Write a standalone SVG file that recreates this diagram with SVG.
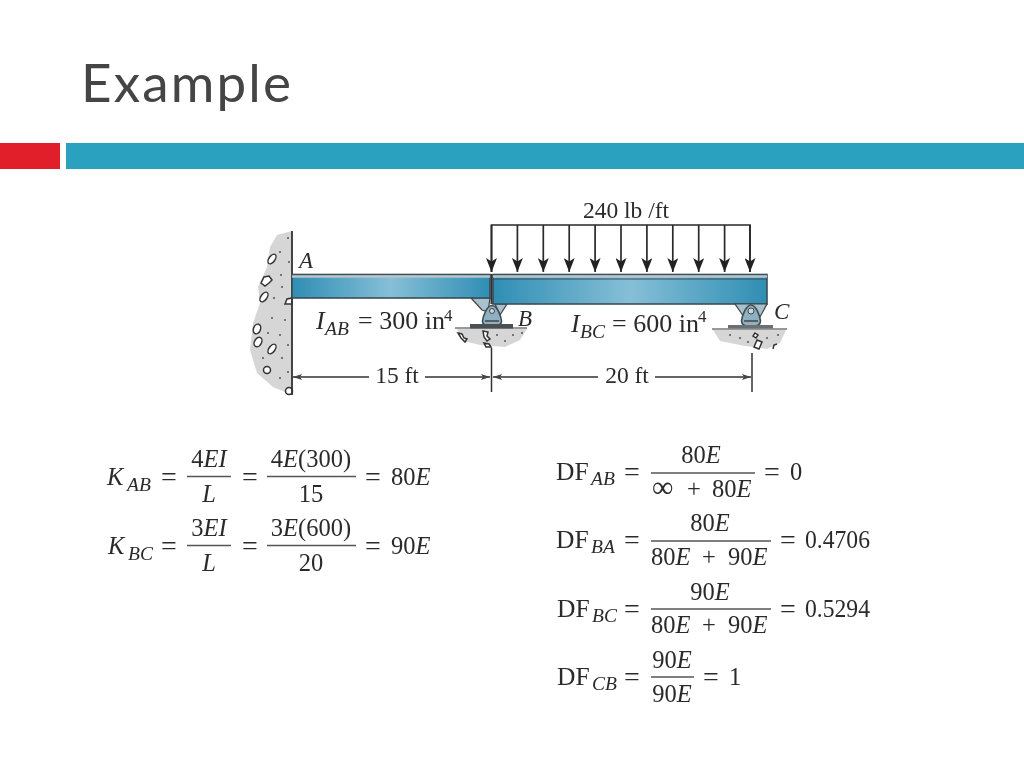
<svg xmlns="http://www.w3.org/2000/svg" width="1024" height="768" viewBox="0 0 1024 768">
<style>
text{font-family:"Liberation Serif","Times New Roman",serif;fill:#2b2b2b}
.m{font-size:24.5px}
.f{font-size:25.500px}
.q{font-size:28px}
.s{font-size:19.5px;font-style:italic}
.i{font-style:italic}
.c{text-anchor:middle}
.d{font-size:23.5px}
.t{font-size:26px}
.bar{stroke:#555;stroke-width:1.6}
.ln{stroke:#333;stroke-width:1.5;fill:none}
.load{stroke:#2a2a2a;stroke-width:1.7;fill:none}
.rock{fill:#fff;stroke:#333;stroke-width:1.5}
.dot{fill:#555}
.conc{fill:#d6d6d6}
.sup{fill:#a7c2cd;stroke:#444;stroke-width:1.2}
.body{fill:#8fb0c0;stroke:#3d4c55;stroke-width:1.6}
.beam{fill:url(#bg);stroke:#3c4d57;stroke-width:1.6}
</style>
<defs>
<linearGradient id="bg" x1="0" x2="1" y1="0" y2="0">
<stop offset="0" stop-color="#2f8eb3"/><stop offset=".5" stop-color="#86bfd7"/><stop offset="1" stop-color="#2f8eb3"/>
</linearGradient>
<marker id="ah" markerUnits="userSpaceOnUse" markerWidth="14" markerHeight="11" refX="14" refY="5.500" orient="auto" viewBox="0 0 14 11"><path d="M0 0L3.500 5.500L0 11L14 5.500Z" fill="#222"/></marker>
<marker id="dim" markerUnits="userSpaceOnUse" markerWidth="9" markerHeight="6" refX="9" refY="3" orient="auto-start-reverse" viewBox="0 0 9 6"><path d="M0 0L9 3L0 6L2 3Z" fill="#444"/></marker>
<filter id="soft" x="-5%" y="-5%" width="110%" height="110%"><feGaussianBlur stdDeviation="0.45"/></filter>
</defs>
<rect width="1024" height="768" fill="#fff"/>
<g id="header">
<text x="81" y="102" textLength="210" lengthAdjust="spacing" style="font-family:'Lato','Open Sans',sans-serif;font-size:53px;fill:#454545">Example</text>
<rect x="0" y="143" width="60" height="26" fill="#e01f2a"/>
<rect x="66" y="143" width="958" height="26" fill="#2aa2bf"/>
</g>
<g id="figure" filter="url(#soft)">
<g id="wall">
<path class="conc" d="M292 231L277 235L270 247L267 267L258 287L260 303L253 323L250 350L257 373L273 387L292 395Z"/>
<g class="rock">
<ellipse cx="272" cy="259" rx="3" ry="5.500" transform="rotate(35 272 259)"/>
<path d="M261 283l3-6l5-1l3 4l-3 3l-4 3z"/>
<ellipse cx="264" cy="297" rx="3" ry="5.500" transform="rotate(35 264 297)"/>
<path d="M285 304l2-5l5-1v6z"/>
<ellipse cx="257" cy="329" rx="3.500" ry="5" transform="rotate(20 257 329)"/>
<ellipse cx="258" cy="342" rx="3.500" ry="5" transform="rotate(30 258 342)"/>
<ellipse cx="272" cy="349" rx="3" ry="5.500" transform="rotate(35 272 349)"/>
<circle cx="267" cy="370" r="3.500"/>
<circle cx="289" cy="391" r="3.500"/>
</g>
<g class="dot">
<circle cx="288" cy="238" r="1"/><circle cx="280" cy="252" r="1"/><circle cx="289" cy="262" r="1"/><circle cx="281" cy="275" r="1"/><circle cx="282" cy="287" r="1"/><circle cx="274" cy="298" r="1"/><circle cx="285" cy="320" r="1"/><circle cx="272" cy="318" r="1"/><circle cx="280" cy="335" r="1"/><circle cx="288" cy="345" r="1"/><circle cx="268" cy="333" r="1"/><circle cx="282" cy="358" r="1"/><circle cx="288" cy="372" r="1"/><circle cx="280" cy="378" r="1"/><circle cx="263" cy="358" r="1"/>
</g>
<line x1="292" y1="231" x2="292" y2="395" stroke="#333" stroke-width="1.8"/>
</g>
<g id="support-b">
<path class="conc" d="M457 329L464 341L480 345L505 347L520 340L527 329Z"/>
<line class="ln" x1="455" y1="328" x2="527" y2="328" style="stroke-width:1"/>
<g class="dot"><circle cx="497" cy="335" r="1"/><circle cx="505" cy="341" r="1"/><circle cx="513" cy="335" r="1"/><circle cx="522" cy="333" r="1"/></g>
<path class="sup" d="M471 298L490 298L488 312L482 310Z"/>
<path class="sup" d="M507 304L495 304L500 315Z"/>
<path class="body" d="M492 305.500C497 305.500 501 316 501.500 321C501.500 326 497 326.500 492 326.500C487 326.500 482.500 326 482.500 321C483 316 487 305.500 492 305.500Z"/>
<circle cx="492" cy="311" r="2.500" fill="#c7d9e0" stroke="#444"/>
<line x1="485" y1="321" x2="499" y2="321" stroke="#444" stroke-width="1.500"/>
<rect x="470" y="324" width="43" height="4.500" fill="#4a4f52"/>
<path class="rock" d="M483 331l5 1l-1 4l3 3l-3 2l-3-4z M458 333l4 1l2 4l3 1l-2 3l-4-4z M484 343l5 1l2 3l-5 0z"/>
</g>
<g id="beam-ab"><rect class="beam" x="292" y="274.500" width="198" height="23.500"/><line x1="292" y1="276.500" x2="490" y2="276.500" stroke="#b9c3c8" stroke-width="2.500"/></g>
<g id="beam-bc"><rect class="beam" x="493" y="274.500" width="274" height="29.500"/><line x1="493" y1="276.500" x2="767" y2="276.500" stroke="#b9c3c8" stroke-width="2.500"/><line x1="493" y1="279" x2="767" y2="279" stroke="#34505f" stroke-width="1"/></g>
<line x1="491.500" y1="274" x2="491.500" y2="304" stroke="#333" stroke-width="2"/>
<g id="support-c">
<path class="conc" d="M713 330L720 341L745 346L767 349L780 343L786 330Z"/>
<line class="ln" x1="712" y1="329" x2="787" y2="329" style="stroke-width:1"/>
<g class="dot"><circle cx="730" cy="335" r="1"/><circle cx="740" cy="338" r="1"/><circle cx="748" cy="342" r="1"/><circle cx="767" cy="338" r="1"/><circle cx="778" cy="335" r="1"/></g>
<path class="sup" d="M735 304L767 304L760 317L744 317Z"/>
<path class="body" d="M751 305C756 305 760 316 760.500 321C760.500 326 756 326.500 751 326.500C746 326.500 741.500 326 741.500 321C742 316 746 305 751 305Z"/>
<circle cx="751" cy="311" r="3" fill="#c7d9e0" stroke="#444"/>
<line x1="744" y1="321" x2="758" y2="321" stroke="#444" stroke-width="1.500"/>
<rect x="728" y="325" width="45" height="3.500" fill="#6a6f72"/>
<path class="rock" d="M755 333l3 2l-2 3l-3-2z M757 340l5 2l-3 7l-5-2z"/>
<path d="M773 349l1-4l3-1" fill="none" stroke="#333" stroke-width="1.500"/>
</g>
<g id="connectors">
<g class="load">
<path d="M491.500 272V225H750V272"/>
<path marker-end="url(#ah)" d="M491.500 225V272"/>
<path marker-end="url(#ah)" d="M517.400 225V272"/>
<path marker-end="url(#ah)" d="M543.300 225V272"/>
<path marker-end="url(#ah)" d="M569.200 225V272"/>
<path marker-end="url(#ah)" d="M595.100 225V272"/>
<path marker-end="url(#ah)" d="M621 225V272"/>
<path marker-end="url(#ah)" d="M646.900 225V272"/>
<path marker-end="url(#ah)" d="M672.800 225V272"/>
<path marker-end="url(#ah)" d="M698.700 225V272"/>
<path marker-end="url(#ah)" d="M724.600 225V272"/>
<path marker-end="url(#ah)" d="M750 225V272"/>
</g>
<g class="ln">
<line x1="491.500" y1="348" x2="491.500" y2="392"/>
<line x1="752" y1="353" x2="752" y2="392"/>
<line x1="293" y1="377" x2="369" y2="377" marker-start="url(#dim)"/>
<line x1="425" y1="377" x2="490" y2="377" marker-end="url(#dim)"/>
<line x1="493" y1="377" x2="598" y2="377" marker-start="url(#dim)"/>
<line x1="655" y1="377" x2="751" y2="377" marker-end="url(#dim)"/>
</g>
</g>
<g id="labels">
<text x="626" y="218" class="c d">240 lb /ft</text>
<text x="299" y="268" class="i" style="font-size:23px">A</text>
<text x="518" y="326" class="i" style="font-size:23px">B</text>
<text x="774" y="319" class="i" style="font-size:23px">C</text>
<text x="316" y="329" class="i t">I</text><text x="325" y="335" class="s">AB</text><text x="358" y="329" class="t">= 300 in</text><text x="444" y="321" style="font-size:17px">4</text>
<text x="571" y="332" class="i t">I</text><text x="580" y="338" class="s">BC</text><text x="612" y="332" class="t">= 600 in</text><text x="698" y="322" style="font-size:17px">4</text>
<text x="397" y="383" class="c d">15 ft</text>
<text x="627" y="383" class="c d">20 ft</text>
</g>
</g>
<g id="equations" filter="url(#soft)">
<g id="k-ab">
<text x="107" y="485" class="m i">K</text><text x="127" y="491" class="s">AB</text><text x="161" y="486" class="q">=</text>
<text x="209" y="467" class="m c">4<tspan class="i">EI</tspan></text><line class="bar" x1="187" y1="476.500" x2="231" y2="476.500"/><text x="209" y="502" class="m c i">L</text>
<text x="242" y="486" class="q">=</text>
<text x="311" y="467" class="m c">4<tspan class="i">E</tspan>(300)</text><line class="bar" x1="267" y1="476.500" x2="356" y2="476.500"/><text x="311" y="502" class="m c">15</text>
<text x="365" y="486" class="q">=</text><text x="391" y="485" class="m">80<tspan class="i">E</tspan></text>
</g>
<g id="k-bc">
<text x="108" y="554" class="m i">K</text><text x="128" y="560" class="s">BC</text><text x="161" y="555" class="q">=</text>
<text x="209" y="536" class="m c">3<tspan class="i">EI</tspan></text><line class="bar" x1="187" y1="545.500" x2="231" y2="545.500"/><text x="209" y="571" class="m c i">L</text>
<text x="242" y="555" class="q">=</text>
<text x="311" y="536" class="m c">3<tspan class="i">E</tspan>(600)</text><line class="bar" x1="267" y1="545.500" x2="356" y2="545.500"/><text x="311" y="571" class="m c">20</text>
<text x="365" y="555" class="q">=</text><text x="391" y="554" class="m">90<tspan class="i">E</tspan></text>
</g>
<g id="df-ab">
<text x="556" y="480" class="f">DF</text><text x="591" y="485" class="s">AB</text><text x="624" y="481" class="q">=</text>
<text x="701" y="463" class="m c">80<tspan class="i">E</tspan></text><line class="bar" x1="651" y1="473" x2="755" y2="473"/><text x="652" y="497" style="font-size:30px">∞</text><text x="687" y="497" class="m">+</text><text x="712" y="497" class="m">80<tspan class="i">E</tspan></text>
<text x="764" y="481" class="q">=</text><text x="790" y="480" class="m">0</text>
</g>
<g id="df-ba">
<text x="556" y="548" class="f">DF</text><text x="591" y="553" class="s">BA</text><text x="624" y="549" class="q">=</text>
<text x="710" y="531" class="m c">80<tspan class="i">E</tspan></text><line class="bar" x1="651" y1="541" x2="771" y2="541"/><text x="651" y="565" class="m">80<tspan class="i">E</tspan></text><text x="702" y="565" class="m">+</text><text x="728" y="565" class="m">90<tspan class="i">E</tspan></text>
<text x="780" y="549" class="q">=</text><text x="805" y="548" class="m" textLength="65" lengthAdjust="spacingAndGlyphs">0.4706</text>
</g>
<g id="df-bc">
<text x="557" y="617" class="f">DF</text><text x="592" y="622" class="s">BC</text><text x="624" y="618" class="q">=</text>
<text x="710" y="600" class="m c">90<tspan class="i">E</tspan></text><line class="bar" x1="651" y1="609" x2="771" y2="609"/><text x="651" y="633" class="m">80<tspan class="i">E</tspan></text><text x="702" y="633" class="m">+</text><text x="728" y="633" class="m">90<tspan class="i">E</tspan></text>
<text x="780" y="618" class="q">=</text><text x="805" y="617" class="m" textLength="65" lengthAdjust="spacingAndGlyphs">0.5294</text>
</g>
<g id="df-cb">
<text x="557" y="685" class="f">DF</text><text x="592" y="690" class="s">CB</text><text x="624" y="686" class="q">=</text>
<text x="672" y="668" class="m c">90<tspan class="i">E</tspan></text><line class="bar" x1="651" y1="677" x2="694" y2="677"/><text x="672" y="702" class="m c">90<tspan class="i">E</tspan></text>
<text x="703" y="686" class="q">=</text><text x="729" y="685" class="m">1</text>
</g>
</g>
</svg>
